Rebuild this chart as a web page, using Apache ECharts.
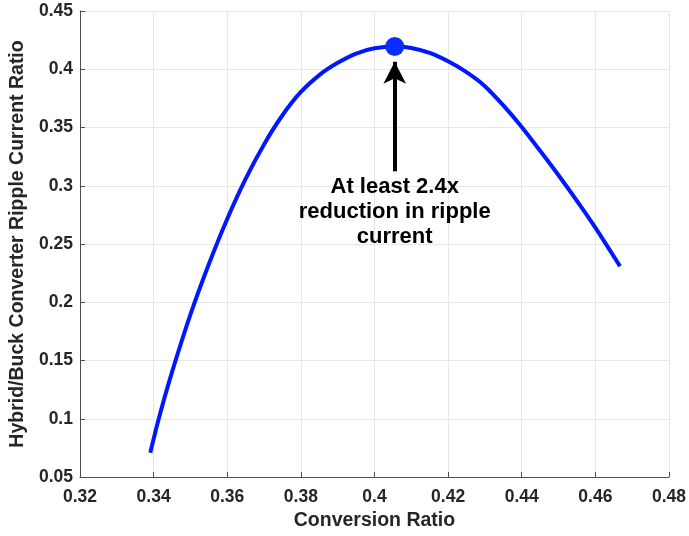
<!DOCTYPE html>
<html>
<head>
<meta charset="utf-8">
<script src="https://cdn.jsdelivr.net/npm/echarts@6/dist/echarts.min.js"></script>
<style>
html,body{margin:0;padding:0;background:#fff;}
#chart{width:689px;height:536px;}
</style>
</head>
<body>
<div id="chart"></div>
<script>
// Data
const conversionRatio = [0.3391, 0.3414, 0.345, 0.350, 0.355, 0.360, 0.365, 0.370, 0.375, 0.380, 0.385, 0.390, 0.395, 0.400, 0.4055, 0.410, 0.415, 0.420, 0.425, 0.430, 0.435, 0.440, 0.445, 0.450, 0.455, 0.460, 0.4667];
const rippleRatio     = [0.0708, 0.1000, 0.1400, 0.1894, 0.2326, 0.2715, 0.3059, 0.3355, 0.3605, 0.3805, 0.3950, 0.4055, 0.4135, 0.4180, 0.4195, 0.4183, 0.4140, 0.4068, 0.3975, 0.3855, 0.3690, 0.3505, 0.3300, 0.3090, 0.2870, 0.2640, 0.2309];
const peakPoint = [0.4055, 0.4195];
const arrowFrom = [0.4055, 0.3124];
const arrowTo   = [0.4055, 0.4064];
const annotationPos = [0.4055, 0.2774];
const annotationText = 'At least 2.4x\nreduction in ripple\ncurrent';
const xTicks = {min: 0.32, max: 0.48, interval: 0.02};
const yTicks = {min: 0.05, max: 0.45, interval: 0.05};
const xName = 'Conversion Ratio';
const yName = 'Hybrid/Buck Converter Ripple Current Ratio';

const lineData = conversionRatio.map((x, i) => [x, rippleRatio[i]]);
const font = 'Liberation Sans, Arial, Helvetica, sans-serif';
const axisColor = '#4d4d4d';
const textColor = '#262626';

const chart = echarts.init(document.getElementById('chart'), null, {renderer: 'canvas'});
chart.setOption({
  animation: false,
  backgroundColor: '#ffffff',
  grid: {left: 77, right: 17, top: 11, bottom: 57, containLabel: false},
  xAxis: {
    type: 'value', min: xTicks.min, max: xTicks.max, interval: xTicks.interval,
    name: xName, nameLocation: 'middle', nameGap: 34,
    nameTextStyle: {fontFamily: font, fontWeight: 'bold', fontSize: 19.5, color: textColor},
    axisLine: {show: true, onZero: false, lineStyle: {color: axisColor, width: 1}},
    axisTick: {show: true, inside: true, length: 5, lineStyle: {color: axisColor}},
    axisLabel: {fontFamily: font, fontWeight: 'bold', fontSize: 17.5, color: textColor, margin: 11,
      formatter: v => String(+v.toFixed(2))},
    splitLine: {show: true, lineStyle: {color: '#e6e6e6', width: 1}}
  },
  yAxis: {
    type: 'value', min: yTicks.min, max: yTicks.max, interval: yTicks.interval,
    name: yName, nameLocation: 'middle', nameGap: 36,
    nameTextStyle: {fontFamily: font, fontWeight: 'bold', fontSize: 19.5, color: textColor},
    axisLine: {show: true, onZero: false, lineStyle: {color: axisColor, width: 1}},
    axisTick: {show: true, inside: true, length: 5, lineStyle: {color: axisColor}},
    axisLabel: {fontFamily: font, fontWeight: 'bold', fontSize: 17.5, color: textColor, margin: 7,
      formatter: v => String(+v.toFixed(2))},
    splitLine: {show: true, lineStyle: {color: '#e6e6e6', width: 1}}
  },
  series: [
    {
      type: 'line', data: lineData, showSymbol: false, smooth: 0.25,
      lineStyle: {color: '#0018ff', width: 4}, z: 3,
      markLine: {
        silent: true, symbol: ['none', 'arrow'], symbolSize: [17, 22],
        lineStyle: {color: '#000000', width: 4, type: 'solid'},
        label: {show: false},
        data: [[{coord: arrowFrom}, {coord: arrowTo}]]
      },
      markPoint: {
        silent: true, symbol: 'circle', symbolSize: 0,
        label: {show: true, position: 'inside', formatter: annotationText,
          fontFamily: font, fontWeight: 'bold', fontSize: 22, lineHeight: 25, color: '#000000', align: 'center'},
        data: [{coord: annotationPos}]
      }
    },
    {
      type: 'scatter', data: [peakPoint], symbol: 'circle', symbolSize: 19,
      itemStyle: {color: '#0a2eff', opacity: 1}, z: 5
    }
  ]
});
</script>
</body>
</html>
